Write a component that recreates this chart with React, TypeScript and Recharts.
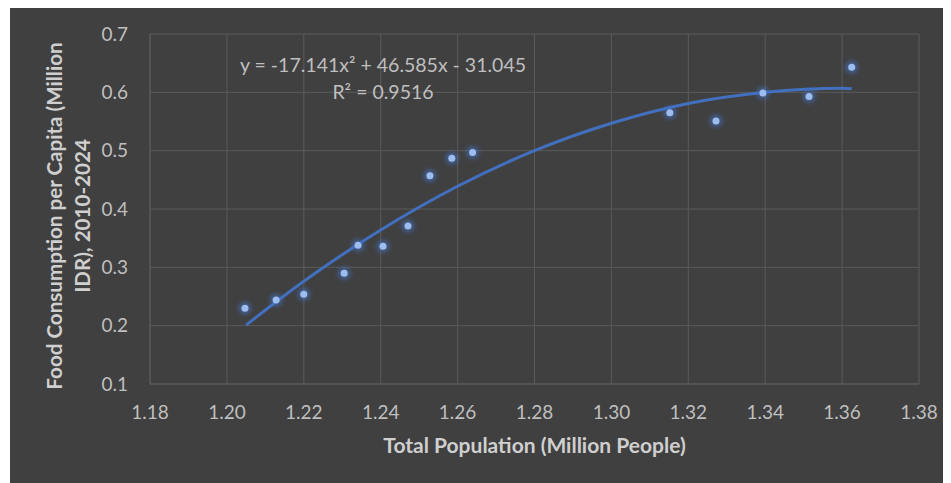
import React from "react";
import {
  CartesianGrid,
  ComposedChart,
  Line,
  Scatter,
  XAxis,
  YAxis,
} from "recharts";

// Observed points (population in millions, food consumption per capita)
const POP = [
  1.2047, 1.2128, 1.22, 1.2305, 1.2341, 1.2406, 1.2471, 1.2528, 1.2585,
  1.2639, 1.3152, 1.3272, 1.3394, 1.3514, 1.3625,
];
const FOOD = [
  0.23, 0.244, 0.254, 0.29, 0.338, 0.336, 0.371, 0.457, 0.487, 0.497, 0.565,
  0.551, 0.599, 0.593, 0.643,
];

// Polynomial trendline as drawn on the chart
const TREND_X = [1.205, 1.22, 1.24, 1.26, 1.28, 1.3, 1.32, 1.34, 1.36, 1.3625];
const TREND_Y = [0.201, 0.276, 0.364, 0.439, 0.5, 0.547, 0.581, 0.6, 0.607, 0.606];

const X_TICKS = [1.18, 1.2, 1.22, 1.24, 1.26, 1.28, 1.3, 1.32, 1.34, 1.36, 1.38];
const Y_TICKS = [0.1, 0.2, 0.3, 0.4, 0.5, 0.6, 0.7];

const points = POP.map((x, i) => ({ x, y: FOOD[i] }));
const trend = TREND_X.map((x, i) => ({ x, y: TREND_Y[i] }));

const FONT = "Lato, 'Open Sans', sans-serif";
const GRID = "#5a5a5a";
const TICK = "#bfbfbf";
const TITLE = "#cfcfcf";

function GlowDot(props: any) {
  const { cx, cy, index } = props;
  if (cx == null || cy == null) return null;
  const id = `glow-${index}`;
  return (
    <g>
      <defs>
        <filter id={id} x="-100%" y="-100%" width="300%" height="300%">
          <feGaussianBlur stdDeviation="2.5" />
        </filter>
      </defs>
      <circle cx={cx} cy={cy} r={6} fill="#4472c4" opacity={0.7} filter={`url(#${id})`} />
      <circle cx={cx} cy={cy} r={3.5} fill="#9dbdee" />
    </g>
  );
}

function YTitle(props: any) {
  const vb = props.viewBox || { x: 0, y: 26, height: 350 };
  const cy = vb.y + vb.height / 2 + 7;
  return (
    <text
      transform={`translate(52, ${cy}) rotate(-90)`}
      textAnchor="middle"
      fill={TITLE}
      fontFamily={FONT}
      fontWeight={700}
      fontSize={20.6}
    >
      <tspan x={0} dy={0}>Food Consumption per Capita (Million</tspan>
      <tspan x={0} dy={28}>IDR), 2010-2024</tspan>
    </text>
  );
}

function XTitle(props: any) {
  const vb = props.viewBox || { x: 140, y: 376, width: 769 };
  return (
    <text
      x={vb.x + vb.width / 2}
      y={vb.y + 69}
      textAnchor="middle"
      fill={TITLE}
      fontFamily={FONT}
      fontWeight={700}
      fontSize={21}
    >
      Total Population (Million People)
    </text>
  );
}

export default function App() {
  return (
    <div
      style={{
        position: "relative",
        marginLeft: 2,
        width: 941,
        height: 475,
        background: "#404040",
      }}
    >
      <ComposedChart
        width={941}
        height={475}
        margin={{ top: 26, right: 32, left: 0, bottom: 0 }}
      >
        <CartesianGrid stroke={GRID} strokeWidth={1} />
        <XAxis
          type="number"
          dataKey="x"
          domain={[1.18, 1.38]}
          ticks={X_TICKS}
          tickFormatter={(v: number) => v.toFixed(2)}
          allowDataOverflow
          height={99}
          axisLine={{ stroke: GRID }}
          tickLine={false}
          tickSize={0}
          tickMargin={22}
          tick={{ fill: TICK, fontSize: 19, fontFamily: FONT }}
          label={{ content: (p: any) => <XTitle {...p} /> }}
        />
        <YAxis
          type="number"
          dataKey="y"
          domain={[0.1, 0.7]}
          ticks={Y_TICKS}
          tickFormatter={(v: number) => String(Number(v.toFixed(1)))}
          allowDataOverflow
          width={140}
          axisLine={{ stroke: GRID }}
          tickLine={false}
          tickSize={0}
          tickMargin={22}
          tick={{ fill: TICK, fontSize: 19, fontFamily: FONT }}
          label={{ content: (p: any) => <YTitle {...p} /> }}
        />
        <Line
          data={trend}
          dataKey="y"
          type="monotone"
          stroke="#4270bf"
          strokeWidth={3}
          dot={false}
          activeDot={false}
          isAnimationActive={false}
        />
        <Scatter
          data={points}
          dataKey="y"
          shape={(p: any) => <GlowDot {...p} />}
          isAnimationActive={false}
        />
      </ComposedChart>
      <div
        style={{
          position: "absolute",
          left: 173,
          top: 43,
          width: 400,
          textAlign: "center",
          color: TICK,
          fontFamily: FONT,
          fontSize: 19.5,
          lineHeight: "27px",
        }}
      >
        <div>y = -17.141x² + 46.585x - 31.045</div>
        <div>R² = 0.9516</div>
      </div>
    </div>
  );
}
